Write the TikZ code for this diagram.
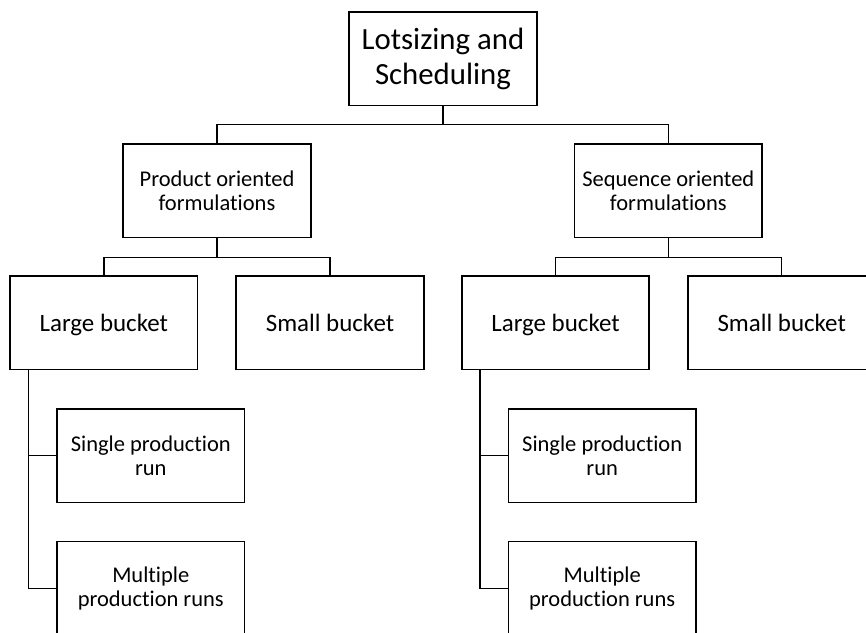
\documentclass[tikz,border=0pt]{standalone}
\usepackage{fontspec}
\setmainfont[Ligatures=NoCommon]{Carlito}
\usetikzlibrary{positioning}
\tikzset{
    box/.style={draw, line width=1.3pt, align=center, inner sep=0pt,
        minimum width=187.5*0.03cm, minimum height=93.5*0.03cm}, % every block of the tree
    link/.style={line width=1.3pt}, % the connectors between blocks
    bigtext/.style={font=\fontsize{26.3}{30}\selectfont},
    midtext/.style={font=\fontsize{21.3}{26}\selectfont, text height=14.6pt, text depth=0pt},
    smalltext/.style={font=\fontsize{19.2}{21}\selectfont},
}

\begin{document}
\begin{tikzpicture}[x=0.03cm, y=-0.03cm]
    \useasboundingbox (0,0) rectangle (866,632);
    \clip (0,0) rectangle (866,632);

    % top
    \node[box, bigtext] (root) at (443,58.8) {Lotsizing and\\Scheduling};

    % formulations
    \node[box, smalltext] (prod) at (217,190.7) {Product oriented\\formulations};
    \node[box, smalltext] (seq) at (668.3,190.7) {Sequence oriented\\formulations};

    % buckets
    \node[box, midtext] (lbprod) at (103.8,322.8) {Large bucket};
    \node[box, midtext] (sbprod) at (330,322.8) {Small bucket};
    \node[box, midtext] (lbseq) at (555.5,322.8) {Large bucket};
    \node[box, midtext] (sbseq) at (781.7,322.8) {Small bucket};

    % runs
    \node[box, smalltext] (spprod) at (150.8,455.7) {Single production\\run};
    \node[box, smalltext] (mpprod) at (150.8,588.3) {Multiple\\production runs};
    \node[box, smalltext] (spseq) at (602.2,455.7) {Single production\\run};
    \node[box, smalltext] (mpseq) at (602.2,588.3) {Multiple\\production runs};

    \draw[link] (root.south) -- ++(0,18) -| (prod.north);
    \draw[link] (root.south) -- ++(0,18) -| (seq.north);

    \draw[link] (prod.south) -- ++(0,19.4) -| (lbprod.north);
    \draw[link] (prod.south) -- ++(0,19.4) -| (sbprod.north);
    \draw[link] (seq.south) -- ++(0,19.4) -| (lbseq.north);
    \draw[link] (seq.south) -- ++(0,19.4) -| (sbseq.north);

    \draw[link] ([xshift=19.3*0.03cm]lbprod.south west) |- (spprod.west);
    \draw[link] ([xshift=19.3*0.03cm]lbprod.south west) |- (mpprod.west);
    \draw[link] ([xshift=19*0.03cm]lbseq.south west) |- (spseq.west);
    \draw[link] ([xshift=19*0.03cm]lbseq.south west) |- (mpseq.west);
\end{tikzpicture}
\end{document}
